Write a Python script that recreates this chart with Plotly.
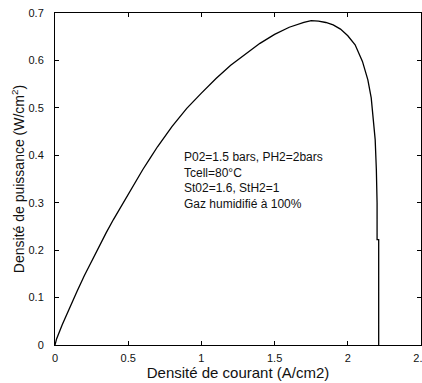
import plotly.graph_objects as go

# Power curve of the cell: current density (A/cm2) vs power density (W/cm2)
courant = [0, 0.01, 0.05, 0.1, 0.15, 0.2, 0.25, 0.3, 0.35, 0.4, 0.45, 0.5, 0.55,
           0.6, 0.65, 0.7, 0.8, 0.9, 1.0, 1.1, 1.2, 1.3, 1.4, 1.5, 1.6, 1.7, 1.75,
           1.8, 1.85, 1.9, 1.95, 2.0, 2.05, 2.1, 2.137, 2.16, 2.175, 2.187, 2.195,
           2.2, 2.2, 2.211, 2.211]
puissance = [0, 0.012, 0.043, 0.08, 0.113, 0.146, 0.177, 0.207, 0.237, 0.265, 0.292,
             0.318, 0.344, 0.37, 0.394, 0.418, 0.461, 0.499, 0.531, 0.562, 0.59,
             0.614, 0.636, 0.655, 0.67, 0.68, 0.684, 0.683, 0.68, 0.675, 0.666,
             0.652, 0.633, 0.598, 0.559, 0.521, 0.475, 0.433, 0.37, 0.3, 0.222,
             0.222, 0]

x_ticks = [0, 0.5, 1, 1.5, 2, 2.5]
x_labels = ["0", "0.5", "1", "1.5", "2", "2.5"]
y_ticks = [0, 0.1, 0.2, 0.3, 0.4, 0.5, 0.6, 0.7]
y_labels = ["0", "0.1", "0.2", "0.3", "0.4", "0.5", "0.6", "0.7"]

conditions = [
    "P02=1.5 bars, PH2=2bars",
    "Tcell=80°C",
    "St02=1.6, StH2=1",
    "Gaz humidifié à 100%",
]

font_family = "Liberation Sans, Arial, sans-serif"

fig = go.Figure()
fig.add_trace(go.Scatter(
    x=courant, y=puissance, mode="lines",
    line=dict(color="black", width=1.3),
    hoverinfo="skip", showlegend=False,
))

fig.add_annotation(
    x=0.87, y=0.415, xref="x", yref="y",
    xanchor="left", yanchor="top", align="left",
    text="<br>".join(conditions), showarrow=False,
    font=dict(family=font_family, size=12, color="#111"),
)

axis_common = dict(
    showgrid=False, zeroline=False, automargin=False,
    showline=True, linecolor="black", linewidth=1, mirror="ticks",
    ticks="inside", ticklen=4, tickcolor="black", tickwidth=1,
    tickfont=dict(family=font_family, size=11, color="#111"),
    ticklabeloverflow="allow",
)

fig.update_xaxes(
    range=[0, 2.5], tickvals=x_ticks, ticktext=x_labels,
    title=dict(text="Densité de courant (A/cm2)", standoff=2,
               font=dict(family=font_family, size=15, color="#111")),
    ticklabelstandoff=3,
    **axis_common,
)
fig.update_yaxes(
    range=[0, 0.7], tickvals=y_ticks, ticktext=y_labels,
    title=dict(text="Densité de puissance (W/cm<sup>2</sup>)", standoff=0,
               font=dict(family=font_family, size=14, color="#111")),
    ticklabelstandoff=8,
    **axis_common,
)

fig.update_layout(
    width=422, height=383,
    margin=dict(l=55, r=1, t=13, b=38),
    paper_bgcolor="white", plot_bgcolor="white",
)

fig.write_html("out.html")
